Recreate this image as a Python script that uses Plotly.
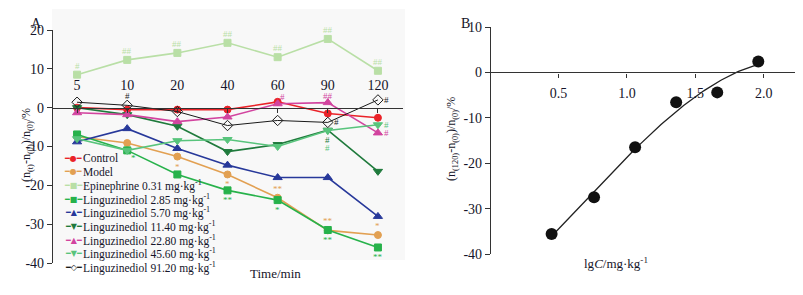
import numpy as np
import plotly.graph_objects as go

# ---------------- data (panel A) ----------------
times = [5, 10, 20, 40, 60, 90, 120]
control = [0.0, -0.5, -0.5, -0.5, 1.5, -1.5, -2.6]
model = [-7.5, -9.1, -12.6, -17.2, -23.2, -31.6, -32.8]
epinephrine = [8.5, 12.3, 14.1, 16.7, 13.0, 17.7, 9.5]
lz_2_85 = [-6.9, -11.0, -17.2, -21.3, -23.8, -31.5, -36.0]
lz_5_70 = [-8.8, -5.4, -10.5, -14.8, -18.0, -18.0, -28.0]
lz_11_40 = [0.0, -1.8, -4.8, -11.3, -9.5, -5.8, -16.4]
lz_22_80 = [-1.3, -1.8, -3.6, -2.4, 1.0, 1.3, -6.5]
lz_45_60 = [-8.0, -11.0, -8.5, -8.2, -10.0, -5.9, -4.4]
lz_91_20 = [1.4, 0.6, -1.0, -4.6, -3.3, -3.8, 2.0]

labels = ["Control", "Model", "Epinephrine 0.31 mg·kg<sup>-1</sup>",
          "Linguzinediol 2.85 mg·kg<sup>-1</sup>", "Linguzinediol 5.70 mg·kg<sup>-1</sup>",
          "Linguzinediol 11.40 mg·kg<sup>-1</sup>", "Linguzinediol 22.80 mg·kg<sup>-1</sup>",
          "Linguzinediol 45.60 mg·kg<sup>-1</sup>", "Linguzinediol 91.20 mg·kg<sup>-1</sup>"]
values = [control, model, epinephrine, lz_2_85, lz_5_70, lz_11_40, lz_22_80, lz_45_60, lz_91_20]

# significance marks: (series index, time index, text, where)
sig_marks = [
    (2, 0, "#", "above"), (2, 1, "##", "above"), (2, 2, "##", "above"), (2, 3, "##", "above"),
    (2, 4, "##", "above"), (2, 5, "##", "above"), (2, 6, "##", "above"),
    (1, 2, "*", "below"), (1, 3, "*", "below"), (1, 4, "**", "above"), (1, 5, "**", "above"),
    (1, 6, "*", "above"),
    (3, 1, "*", "belowright"), (3, 3, "**", "below"), (3, 4, "*", "below"), (3, 5, "**", "below"),
    (3, 6, "**", "below"),
    (6, 4, "#", "aboveright"), (6, 5, "##", "abovelow"), (6, 6, "#", "right"),
    (8, 1, "#", "above"), (8, 5, "#", "right"), (8, 6, "#", "right"),
    (5, 5, "#", "below"), (7, 5, "#", "below2"), (7, 6, "#", "right"),
]

# ---------------- data (panel B) ----------------
lg_dose = [0.45, 0.76, 1.06, 1.36, 1.66, 1.96]
inhib_120 = [-35.6, -27.5, -16.5, -6.6, -4.4, 2.4]

# tick values
yA_ticks = [-40, -30, -20, -10, 0, 10, 20]
yB_ticks = [-40, -30, -20, -10, 0, 10]
xB_ticks = [0.5, 1.0, 1.5, 2.0]

# ---------------- styles ----------------
colors = ["#ea2228", "#e2a052", "#b9dfa6", "#27b24b", "#27389a", "#1f7a3c", "#d2449f", "#58c47c", "#1a1a1a"]
symbols = ["circle", "circle", "square", "square", "triangle-up", "triangle-down",
           "triangle-up", "triangle-down", "diamond-open"]
glyphs = ["●", "●", "■", "■", "▲", "▼", "▲", "▼", "◇"]

# the page body has an 8px default margin; place everything in window pixels
OFF = 8
W, H = 803 - OFF, 295 - OFF
SERIF = "Liberation Serif, Times New Roman, serif"
TXT = "#15152a"

def px_x(p):
    return (p - OFF) / W

def px_y(p):
    return 1 - (p - OFF) / H

# panel A geometry
xA = [px_x(52), px_x(403)]
yA = [px_y(263), px_y(30)]
rA = [-40, 20]
zeroA = yA[0] + (0 - rA[0]) / (rA[1] - rA[0]) * (yA[1] - yA[0])
# panel B geometry
xB = [px_x(490), min(1.0, px_x(798))]
yB = [px_y(254), px_y(27)]
rB = [-40, 10]
zeroB = yB[0] + (0 - rB[0]) / (rB[1] - rB[0]) * (yB[1] - yB[0])
xB_range = [0, 2.25 * (xB[1] - xB[0]) / (px_x(798) - xB[0])]

fig = go.Figure()
pos = list(range(len(times)))

for i, (lab, vals) in enumerate(zip(labels, values)):
    fig.add_trace(go.Scatter(
        x=pos, y=vals, mode="lines+markers", name=lab, showlegend=False,
        line=dict(color=colors[i], width=1.0 if i == 8 else 1.6),
        marker=dict(symbol=symbols[i], size=7 if i < 4 else 8, color=colors[i],
                    line=dict(width=1, color=colors[i])),
        xaxis="x", yaxis="y"))

# fitted curve for panel B (cubic least squares on the data)
coef = np.polyfit(lg_dose, inhib_120, 3)
xf = np.linspace(min(lg_dose), max(lg_dose), 120)
fig.add_trace(go.Scatter(x=xf, y=np.polyval(coef, xf), mode="lines", showlegend=False,
                         line=dict(color="#222", width=1.3), xaxis="x2", yaxis="y2"))
fig.add_trace(go.Scatter(x=lg_dose, y=inhib_120, mode="markers", showlegend=False,
                         marker=dict(color="#111", size=12), xaxis="x2", yaxis="y2"))

ann = []
# significance marks
offs = {"above": (0, 9), "abovelow": (0, 7), "below": (0, -10), "right": (9, 0),
        "aboveright": (5, 7), "belowright": (6, -8), "below2": (0, -17)}
for si, ti, t, where in sig_marks:
    dx, dy = offs[where]
    ann.append(dict(x=pos[ti], y=values[si][ti], xref="x", yref="y", text=t, showarrow=False,
                    xshift=dx, yshift=dy, font=dict(family=SERIF, size=9, color=colors[si])))

# manual compact legend
for i, lab in enumerate(labels):
    yy = px_y(158 + i * 13.7)
    ann.append(dict(x=px_x(73), y=yy, xref="paper", yref="paper", text="━" + glyphs[i] + "━",
                    showarrow=False, xanchor="center", yanchor="middle",
                    font=dict(family="DejaVu Sans", size=8, color=colors[i])))
    ann.append(dict(x=px_x(81), y=yy, xref="paper", yref="paper", text=lab,
                    showarrow=False, xanchor="left", yanchor="middle",
                    font=dict(family=SERIF, size=11.5, color=TXT)))

# titles / panel labels
ann += [
    dict(x=px_x(29), y=px_y(14), xref="paper", yref="paper", text="A", showarrow=False,
         font=dict(family=SERIF, size=14, color=TXT)),
    dict(x=px_x(465), y=px_y(14), xref="paper", yref="paper", text="B", showarrow=False,
         font=dict(family=SERIF, size=14, color=TXT)),
    dict(x=px_x(17), y=px_y(145), xref="paper", yref="paper", textangle=-90, showarrow=False,
         text="(n<sub>(t)</sub>-n<sub>(0)</sub>)/n<sub>(0)</sub>/%",
         font=dict(family=SERIF, size=12, color=TXT)),
    dict(x=px_x(452), y=px_y(139), xref="paper", yref="paper", textangle=-90, showarrow=False,
         text="(n<sub>(120)</sub>-n<sub>(0)</sub>)/n<sub>(0)</sub>/%",
         font=dict(family=SERIF, size=12, color=TXT)),
    dict(x=px_x(248), y=px_y(283), xref="paper", yref="paper", text="Time/min", showarrow=False,
         font=dict(family=SERIF, size=13, color=TXT)),
    dict(x=px_x(650), y=px_y(273), xref="paper", yref="paper", showarrow=False,
         text="lg<i>C</i>/mg·kg<sup>-1</sup>", font=dict(family=SERIF, size=13, color=TXT)),
]

axis_common = dict(showgrid=False, zeroline=False, showline=True, linecolor="#333", linewidth=1.2,
                   tickcolor="#333", tickfont=dict(family=SERIF, size=14, color=TXT))

def hyph(v):
    return str(v).replace("−", "-")

fig.update_layout(
    width=W, height=H, margin=dict(l=0, r=0, t=0, b=0, autoexpand=False),
    paper_bgcolor="white", plot_bgcolor="rgba(0,0,0,0)", showlegend=False,
    xaxis=dict(domain=xA, range=[-0.5, len(times) - 0.5], anchor="free", position=zeroA,
               side="top", ticks="inside", ticklen=4, tickvals=pos, ticktext=[str(t) for t in times],
               ticklabelstandoff=12, **axis_common),
    yaxis=dict(domain=yA, range=rA, anchor="free", position=xA[0], tickvals=yA_ticks,
               ticktext=[hyph(v) for v in yA_ticks], ticks="outside", ticklen=5, **axis_common),
    xaxis2=dict(domain=xB, range=xB_range, anchor="free", position=zeroB, side="bottom",
                ticks="outside", ticklen=4, tickvals=xB_ticks,
                ticktext=[f"{v:.1f}" for v in xB_ticks], ticklabelstandoff=4, **axis_common),
    yaxis2=dict(domain=yB, range=rB, anchor="free", position=xB[0], tickvals=yB_ticks,
                ticktext=[hyph(v) for v in yB_ticks], ticks="outside", ticklen=5, **axis_common),
    annotations=ann,
    shapes=[dict(type="rect", xref="paper", yref="paper", x0=px_x(52), x1=px_x(405),
                 y0=px_y(260), y1=px_y(9), fillcolor="#f8f8f8", line=dict(width=0), layer="below")],
)

fig.write_html("out.html")
